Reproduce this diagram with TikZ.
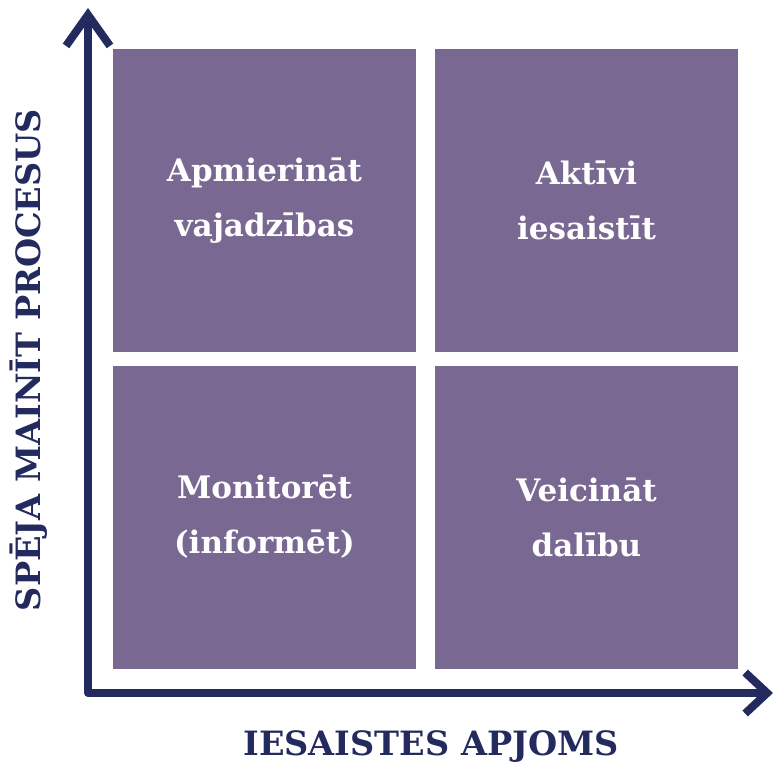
\documentclass[tikz,border=0pt]{standalone}
\usepackage{fontspec}
\setmainfont{DejaVu Serif}
\usetikzlibrary{arrows.meta}

\definecolor{quadfill}{HTML}{786892}
\definecolor{axisblue}{HTML}{232A5E}

\tikzset{
    quad/.style={fill=quadfill, minimum width=303pt, minimum height=303pt,
        inner sep=0pt, text=white, align=center,
        font=\fontsize{31}{55}\selectfont\bfseries},
    axislabel/.style={text=axisblue, inner sep=0pt,
        font=\fontsize{33.5}{40}\selectfont\bfseries},
    axisline/.style={draw=axisblue, line width=8pt, line cap=round, line join=round}
}

\begin{document}
\begin{tikzpicture}[x=1pt, y=-1pt]
    \useasboundingbox (0,0) rectangle (774,765);

    % Quadrants
    \node[quad] (tl) at (264.5,200.5) {Apmierināt\\vajadzības};
    \node[quad] (tr) at (586.5,200.5) {Aktīvi\\iesaistīt};
    \node[quad] (bl) at (264.5,517) {Monitorēt\\(informēt)};
    \node[quad] (br) at (586.5,517) {Veicināt\\dalību};

    % Axes
    \coordinate (ytop) at (88,8);
    \coordinate (origin) at (88,693);
    \coordinate (xend) at (773,693);
    \draw[axisline,
        {Straight Barb[length=31pt,width=44pt]}-{Straight Barb[length=22pt,width=41pt]}]
        (ytop) -- (origin) -- (xend);

    % Labels
    \node[axislabel] (xlabel) at (431,746.5) {IESAISTES APJOMS};
    \node[axislabel, rotate=90] (ylabel) at (29,360) {SPĒJA MAINĪT PROCESUS};
\end{tikzpicture}
\end{document}
